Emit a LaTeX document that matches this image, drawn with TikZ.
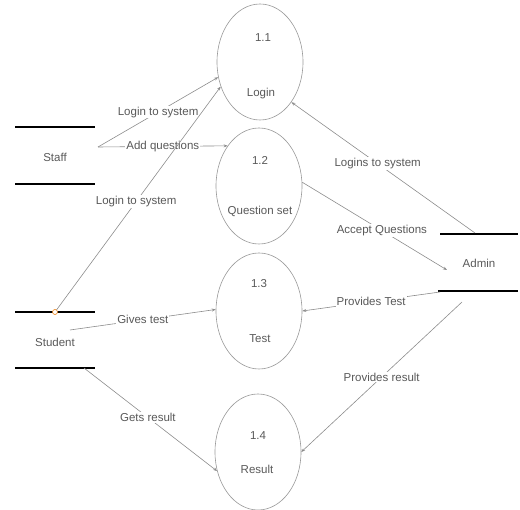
\documentclass[tikz,border=0pt]{standalone}
\usepackage{fontspec}
\setmainfont{Liberation Sans}
\usetikzlibrary{shapes.geometric,arrows.meta}
\begin{document}
\begin{tikzpicture}[x=1pt,y=-1pt,
  proc/.style={draw=black!40,line width=0.6pt,ellipse,minimum width=86pt,minimum height=116pt,inner sep=0pt},
  ptext/.style={text=black!65,font=\fontsize{11.5}{13}\selectfont},
  storeline/.style={line width=2.2pt,black},
  flow/.style={draw=black!45,line width=0.6pt,-{Stealth[length=4pt,width=3pt]}},
  lbl/.style={fill=white,inner sep=1pt,text=black!65,font=\fontsize{11.5}{13}\selectfont}]
\useasboundingbox (0,0) rectangle (520,510);
% processes
\node[proc] (p1) at (260,62) {};
\node[proc] (p2) at (259,186) {};
\node[proc] (p3) at (259,311) {};
\node[proc] (p4) at (258,452) {};
\node[ptext] (n1) at (263,38) {1.1};
\node[ptext] (t1) at (261,94) {Login};
\node[ptext] (n2) at (260,160) {1.2};
\node[ptext] (t2) at (260,211) {Question set};
\node[ptext] (n3) at (259,284) {1.3};
\node[ptext] (t3) at (260,339) {Test};
\node[ptext] (n4) at (258,436) {1.4};
\node[ptext] (t4) at (257,469) {Result};
% stores
\node[ptext] (staff) at (55,157) {Staff};
\node[ptext] (student) at (55,342) {Student};
\node[ptext] (admin) at (479,263) {Admin};
\coordinate (sfa) at (15,127); \coordinate (sfb) at (95,127);
\coordinate (sfc) at (15,184); \coordinate (sfd) at (95,184);
\coordinate (sta) at (15,312); \coordinate (stb) at (95,312);
\coordinate (stc) at (15,368); \coordinate (std) at (95,368);
\coordinate (ada) at (440,234); \coordinate (adb) at (518,234);
\coordinate (adc) at (438,291); \coordinate (add) at (518,291);
\draw[storeline] (sfa) -- (sfb);
\draw[storeline] (sfc) -- (sfd);
\draw[storeline] (sta) -- (stb);
\draw[storeline] (stc) -- (std);
\draw[storeline] (ada) -- (adb);
\draw[storeline] (adc) -- (add);
% connector end points
\coordinate (staffout) at (98,147);
\coordinate (studtop) at (55,312);
\coordinate (studmid) at (70,330);
\coordinate (studbot) at (84,368);
\coordinate (admtop) at (475,233);
\coordinate (admin2) at (447,270);
\coordinate (admbot) at (440,292);
\coordinate (admbot2) at (462,302);
% flows
\draw[flow] (staffout) -- node[lbl,pos=0.5] {Login to system} (p1.200);
\draw[flow] (staffout) -- node[lbl,pos=0.5] {Add questions} (p2.128);
\draw[flow] (studtop) -- node[lbl,pos=0.49] {Login to system} (p1.212);
\draw[flow] (studmid) -- node[lbl,pos=0.5] {Gives test} (p3.178);
\draw[flow] (studbot) -- node[lbl,pos=0.48] {Gets result} (p4.205);
\draw[flow] (admtop) -- node[lbl,pos=0.53] {Logins to system} (p1.-52);
\draw[flow] (p2.5) -- node[lbl,pos=0.55] {Accept Questions} (admin2);
\draw[flow] (admbot) -- node[lbl,pos=0.5] {Provides Test} (p3.0);
\draw[flow] (admbot2) -- node[lbl,pos=0.5] {Provides result} (p4.0);
\draw[draw=orange!70!brown,fill=white,line width=0.6pt] (studtop) circle (2.5pt);
\end{tikzpicture}
\end{document}
